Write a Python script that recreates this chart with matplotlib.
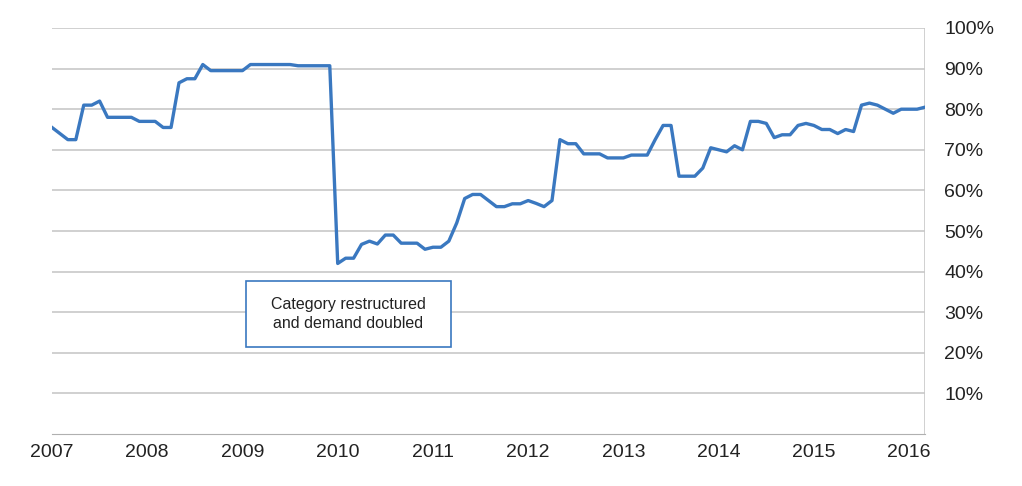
import matplotlib
matplotlib.use("Agg")
import matplotlib.pyplot as plt
from matplotlib.patches import Rectangle
import numpy as np

years = [2007, 2008, 2009, 2010, 2011, 2012, 2013, 2014, 2015, 2016]
tick_labels = ["10%", "20%", "30%", "40%", "50%", "60%", "70%", "80%", "90%", "100%"]
v2007 = [75.5, 74, 72.5, 72.5, 81, 81, 82, 78, 78, 78, 78, 77]
v2008 = [77, 77, 75.5, 75.5, 86.5, 87.5, 87.5, 91, 89.5, 89.5, 89.5, 89.5]
v2009 = [89.5, 91, 91, 91, 91, 91, 91, 90.7, 90.7, 90.7, 90.7, 90.7]
v2010 = [42, 43.3, 43.3, 46.7, 47.5, 46.8, 49, 49, 47, 47, 47, 45.5]
v2011 = [46, 46, 47.5, 52, 58, 59, 59, 57.5, 56, 56, 56.7, 56.7]
v2012 = [57.5, 56.8, 56, 57.5, 72.5, 71.5, 71.5, 69, 69, 69, 68, 68]
v2013 = [68, 68.7, 68.7, 68.7, 72.5, 76, 76, 63.5, 63.5, 63.5, 65.5, 70.5]
v2014 = [70, 69.5, 71, 70, 77, 77, 76.5, 73, 73.7, 73.7, 76, 76.5]
v2015 = [76, 75, 75, 74, 75, 74.5, 81, 81.5, 81, 80, 79, 80]
v2016 = [80, 80, 80.5]
values = v2007 + v2008 + v2009 + v2010 + v2011 + v2012 + v2013 + v2014 + v2015 + v2016
x = 2007 + np.arange(len(values)) / 12.0

fig = plt.figure(figsize=(10.22, 4.86), dpi=100)
ax = fig.add_axes([52/1022, 1-434/486, (925-52)/1022, (434-28)/486])
for g in range(10, 101, 10):
    ax.axhline(g, color="#c8c8c8", lw=1.2, zorder=1)
ax.plot(x, values, color="#3a78c0", lw=2.4, zorder=3)
ax.set_xlim(2007, x[-1])
ax.set_ylim(0, 100)
for s in ["left", "top", "right"]:
    ax.spines[s].set_visible(False)
ax.spines["bottom"].set_color("#b0b0b0")
ax.axvline(x[-1], color="#c8c8c8", lw=1.2)
ax.yaxis.tick_right()
ax.set_yticks(range(10, 101, 10))
ax.set_yticklabels(tick_labels, fontsize=14, fontfamily="Liberation Sans", color="#222222")
ax.set_xticks(years)
ax.set_xticklabels([str(y) for y in years], fontsize=14, fontfamily="Liberation Sans", color="#222222")
ax.tick_params(length=0, pad=7)
ax.tick_params(axis="y", pad=14)
# annotation box (axes-fraction coordinates)
bx0, bx1 = (246-52)/873, (451-52)/873
by0, by1 = (434-347)/406, (434-281)/406
ax.add_patch(Rectangle((bx0, by0), bx1-bx0, by1-by0, transform=ax.transAxes,
                       fc="white", ec="#3a78c0", lw=1.2, zorder=4))
ax.text((bx0+bx1)/2, (by0+by1)/2, "Category restructured\nand demand doubled",
        transform=ax.transAxes, ha="center", va="center", linespacing=1.3,
        fontsize=11.5, fontfamily="Liberation Sans", color="#222222", zorder=5)
fig.savefig("out.png", dpi=100)
